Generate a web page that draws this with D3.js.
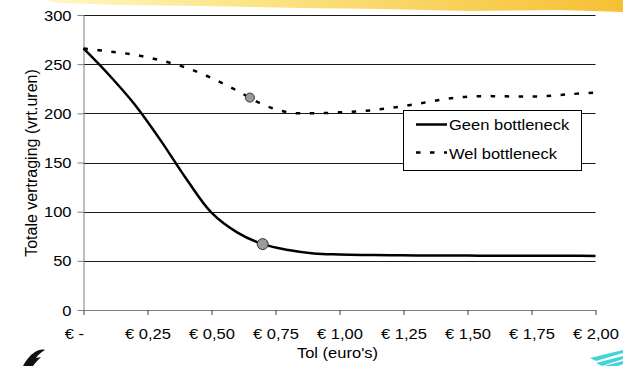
<!DOCTYPE html>
<html>
<head>
<meta charset="utf-8">
<script src="https://cdn.jsdelivr.net/npm/d3@7"></script>
<style>
  html, body { margin: 0; padding: 0; background: #fff; }
  svg { display: block; }
  text { font-family: "Liberation Sans", Arial, sans-serif; fill: #000; }
</style>
</head>
<body>
<svg id="chart" width="623" height="366"></svg>
<script>
// ---------- data ----------
const tol = [0, 0.1, 0.2, 0.3, 0.4, 0.5, 0.6, 0.7, 0.8, 0.9, 1.0, 1.1, 1.2, 1.3, 1.4, 1.5, 1.6, 1.7, 1.8, 1.9, 2.0];
const geenBottleneck = [266, 239, 209, 173, 134, 99, 79, 67, 61, 57.5, 56.5, 56, 55.7, 55.5, 55.4, 55.3, 55.2, 55.2, 55.1, 55.1, 55];
const welBottleneck  = [266, 263, 259.5, 254, 246.5, 236, 223, 209, 201, 200, 201, 202.5, 205.5, 209.5, 214, 217, 217.5, 217, 217.5, 219.5, 221];
const markerGeen = [{ t: 0.70, v: 67 }];
const markerWel  = [{ t: 0.65, v: 216 }];
const xTickValues = [0, 0.25, 0.5, 0.75, 1.0, 1.25, 1.5, 1.75, 2.0];
const xTickLabels = ["€ -", "€ 0,25", "€ 0,50", "€ 0,75", "€ 1,00", "€ 1,25", "€ 1,50", "€ 1,75", "€ 2,00"];
const yTickValues = [0, 50, 100, 150, 200, 250, 300];
const seriesNames = ["Geen bottleneck", "Wel bottleneck"];
const xTitle = "Tol (euro's)";
const yTitle = "Totale vertraging (vrt.uren)";

// ---------- layout ----------
const SX = 1.18; // horizontal text stretch seen in the reference
const svg = d3.select("#chart");
const x = d3.scaleLinear().domain([0, 2]).range([83.5, 595.5]);
const y = d3.scaleLinear().domain([0, 300]).range([310, 15]);

// ---------- decorations ----------
const defs = svg.append("defs");
const grad = defs.append("linearGradient").attr("id", "brush").attr("x1", "0%").attr("x2", "100%");
grad.append("stop").attr("offset", "0%").attr("stop-color", "#fff6c0");
grad.append("stop").attr("offset", "35%").attr("stop-color", "#fbe27a");
grad.append("stop").attr("offset", "100%").attr("stop-color", "#f6b81e");
svg.append("path")
  .attr("d", "M44,0 L623,0 L623,12 L560,10 L470,11 L380,9 L300,8 L200,6 L120,5 L60,3 Z")
  .attr("fill", "url(#brush)").attr("opacity", 0.9);

// bottom-left glyph
svg.append("path")
  .attr("d", "M23,366 C26,360 30,355 35,352 C38,350 42,349 45,350 C41,352 38,355 36,358 L41,357 C38,360 35,363 33,366 Z")
  .attr("fill", "#111");

// bottom-right cyan stripes
const stripes = svg.append("g").attr("fill", "#3fd3dc");
[[590, 358, 623, 350], [596, 363, 623, 356], [604, 366, 623, 361]].forEach(s => {
  stripes.append("path")
    .attr("d", `M${s[0]},${s[1]} L${s[2]},${s[3]} L${s[2]},${s[3]+3} L${s[0]+6},${s[1]+3} Z`);
});

// ---------- grid ----------
svg.append("g").selectAll("line")
  .data(yTickValues.filter(v => v > 0))
  .join("line")
  .attr("x1", x(0)).attr("x2", x(2))
  .attr("y1", d => Math.round(y(d)) + 0.5).attr("y2", d => Math.round(y(d)) + 0.5)
  .attr("stroke", "#1a1a1a").attr("stroke-width", 1);

// ---------- axes ----------
const yAxis = svg.append("g")
  .attr("transform", `translate(${x(0)},0)`)
  .call(d3.axisLeft(y).tickValues(yTickValues).tickSize(6).tickSizeOuter(0).tickFormat(d3.format("d")));
yAxis.select(".domain").attr("stroke", "#7f7f7f");
yAxis.selectAll(".tick line").attr("stroke", "#7f7f7f");
yAxis.selectAll(".tick text")
  .attr("x", -12 / SX).attr("dy", "0.36em")
  .attr("transform", `scale(${SX},1)`)
  .style("font-size", "14px").style("font-family", "Liberation Sans, Arial, sans-serif").attr("fill", "#000");

const xAxis = svg.append("g")
  .attr("transform", `translate(0,${y(0)})`)
  .call(d3.axisBottom(x).tickValues(xTickValues).tickSize(5).tickSizeOuter(0)
    .tickFormat((d, i) => xTickLabels[i]));
xAxis.select(".domain").attr("stroke", "#7f7f7f");
xAxis.selectAll(".tick line").attr("stroke", "#404040");
xAxis.selectAll(".tick text")
  .attr("y", 29).attr("dy", 0)
  .attr("transform", `scale(${SX},1)`)
  .attr("x", 0)
  .attr("text-anchor", (d, i) => i === 0 ? "end" : "middle")
  .style("font-size", "14px").style("font-family", "Liberation Sans, Arial, sans-serif").attr("fill", "#000");

// axis titles
svg.append("text")
  .attr("transform", `translate(${x(1) - 2},358) scale(${SX},1)`)
  .attr("text-anchor", "middle").style("font-size", "14px")
  .text(xTitle);
svg.append("text")
  .attr("transform", `translate(37,163) rotate(-90)`)
  .attr("text-anchor", "middle").style("font-size", "16px")
  .text(yTitle);

// ---------- lines ----------
const lineGen = d3.line().x((d, i) => x(tol[i])).y(d => y(d)).curve(d3.curveCatmullRom.alpha(0.5));
svg.append("path").datum(welBottleneck)
  .attr("d", lineGen).attr("fill", "none").attr("stroke", "#000")
  .attr("stroke-width", 2.5).attr("stroke-dasharray", "4.5,9.5");
svg.append("path").datum(geenBottleneck)
  .attr("d", lineGen).attr("fill", "none").attr("stroke", "#000")
  .attr("stroke-width", 2.5);

// markers
svg.append("g").selectAll("circle").data(markerWel).join("circle")
  .attr("cx", d => x(d.t)).attr("cy", d => y(d.v)).attr("r", 4.5)
  .attr("fill", "#9a9a9a").attr("stroke", "#333").attr("stroke-width", 1);
svg.append("g").selectAll("circle").data(markerGeen).join("circle")
  .attr("cx", d => x(d.t)).attr("cy", d => y(d.v)).attr("r", 5.5)
  .attr("fill", "#9a9a9a").attr("stroke", "#333").attr("stroke-width", 1);

// ---------- legend ----------
const lg = svg.append("g");
lg.append("rect").attr("x", 403.5).attr("y", 110.5).attr("width", 178).attr("height", 60)
  .attr("fill", "#fff").attr("stroke", "#000").attr("stroke-width", 1);
const items = [
  { name: seriesNames[0], dash: null, ly: 124.5, ty: 130 },
  { name: seriesNames[1], dash: "4.5,9.5", ly: 152.5, ty: 159 }
];
items.forEach(it => {
  lg.append("line").attr("x1", 416).attr("x2", 447).attr("y1", it.ly).attr("y2", it.ly)
    .attr("stroke", "#000").attr("stroke-width", 2.5)
    .attr("stroke-dasharray", it.dash);
  lg.append("text").attr("transform", `translate(449,${it.ty}) scale(${SX},1)`)
    .style("font-size", "14px").text(it.name);
});
</script>
</body>
</html>
